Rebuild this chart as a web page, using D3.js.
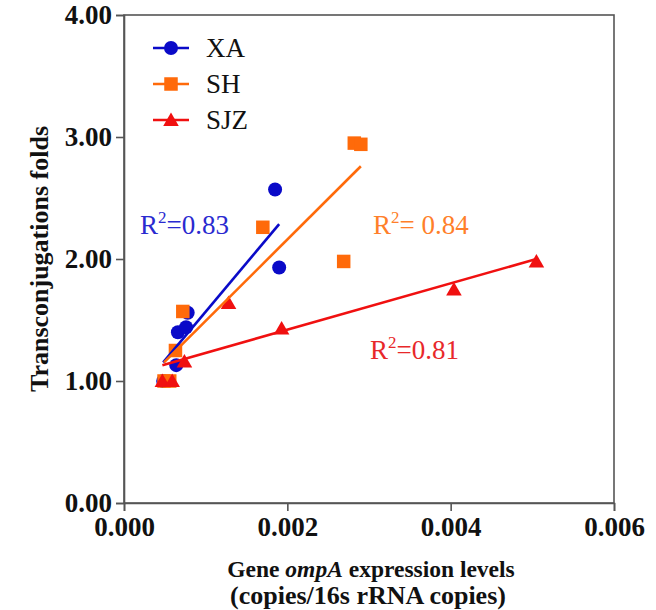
<!DOCTYPE html>
<html>
<head>
<meta charset="utf-8">
<script src="https://cdn.jsdelivr.net/npm/d3@7"></script>
<style>
  html, body { margin: 0; padding: 0; background: #fff; }
  svg { display: block; }
  text, tspan { font-family: "Liberation Serif", "Times New Roman", serif; }
</style>
</head>
<body>
<svg id="chart" width="656" height="610"></svg>
<script>
// Expression level (copies/16s rRNA copies) vs. transconjugation folds, per strain
const xaX  = [0.00048, 0.00064, 0.00066, 0.00076, 0.00078, 0.00185, 0.00190];
const xaY  = [1.00, 1.13, 1.40, 1.44, 1.56, 2.57, 1.93];
const shX  = [0.00049, 0.00056, 0.00063, 0.00072, 0.00170, 0.00269, 0.00282, 0.00290];
const shY  = [1.00, 1.00, 1.25, 1.57, 2.26, 1.98, 2.95, 2.94];
const sjzX = [0.00047, 0.00059, 0.00074, 0.00128, 0.00193, 0.00404, 0.00505];
const sjzY = [1.00, 1.00, 1.16, 1.64, 1.43, 1.75, 1.98];

const seriesNames = ["XA", "SH", "SJZ"];
const seriesColors = ["#0a0ac8", "#ff6a0a", "#f01010"];
const labelColors = ["#2a2ad0", "#ff7f2a", "#e8282a"];
const r2Labels = ["0.83", "0.84", "0.81"];
const r2Sep = ["=", "= ", "="];

const xTicks = [0, 0.002, 0.004, 0.006];
const yTicks = [0, 1, 2, 3, 4];

const series = [
  { name: seriesNames[0], xs: xaX, ys: xaY, shape: "circle" },
  { name: seriesNames[1], xs: shX, ys: shY, shape: "square" },
  { name: seriesNames[2], xs: sjzX, ys: sjzY, shape: "triangle" }
];

const svg = d3.select("#chart");
const margin = { left: 124, top: 15, right: 42, bottom: 107 };
const W = 656, H = 610;
const x = d3.scaleLinear().domain([0, 0.006]).range([margin.left, W - margin.right]);
const y = d3.scaleLinear().domain([0, 4]).range([H - margin.bottom, margin.top]);

const axisColor = "#555";
const serif = '"Liberation Serif", "Times New Roman", serif';

// frame
svg.append("rect")
  .attr("x", x(0)).attr("y", y(4))
  .attr("width", x(0.006) - x(0)).attr("height", y(0) - y(4))
  .attr("fill", "none").attr("stroke", axisColor).attr("stroke-width", 1.6);

// axes
const yAxis = svg.append("g")
  .attr("transform", `translate(${x(0)},0)`)
  .call(d3.axisLeft(y).tickValues(yTicks).tickFormat(d3.format(".2f")).tickSize(8).tickPadding(4));
const xAxis = svg.append("g")
  .attr("transform", `translate(0,${y(0)})`)
  .call(d3.axisBottom(x).tickValues(xTicks).tickFormat(d3.format(".3f")).tickSize(8).tickPadding(6));

[yAxis, xAxis].forEach(g => {
  g.attr("font-family", serif);
  g.select(".domain").attr("stroke", axisColor).attr("stroke-width", 1.6);
  g.selectAll(".tick line").attr("stroke", axisColor).attr("stroke-width", 1.6);
  g.selectAll(".tick text")
    .attr("fill", "#111")
    .style("font-family", serif)
    .style("font-weight", "bold")
    .style("font-size", "27px");
});

// axis titles
svg.append("text")
  .attr("transform", `translate(48,${(y(0) + y(4)) / 2}) rotate(-90)`)
  .attr("text-anchor", "middle")
  .style("font-family", serif)
  .style("font-weight", "bold").style("font-size", "26px").attr("fill", "#111")
  .text("Transconjugations folds");

const xt = svg.append("text")
  .attr("x", 371).attr("y", 577)
  .attr("text-anchor", "middle")
  .style("font-family", serif)
  .style("font-weight", "bold").style("font-size", "23.5px").attr("fill", "#111");
xt.append("tspan").text("Gene ");
xt.append("tspan").style("font-style", "italic").text("ompA");
xt.append("tspan").text(" expression levels");

svg.append("text")
  .attr("x", 368).attr("y", 604)
  .attr("text-anchor", "middle")
  .style("font-family", serif)
  .style("font-weight", "bold").style("font-size", "26px").attr("fill", "#111")
  .text("(copies/16s rRNA copies)");

// least-squares fit over each series' x range
function fit(xs, ys) {
  const mx = d3.mean(xs), my = d3.mean(ys);
  let sxy = 0, sxx = 0;
  xs.forEach((v, i) => { sxy += (v - mx) * (ys[i] - my); sxx += (v - mx) ** 2; });
  const b = sxy / sxx, a = my - b * mx;
  const [x0, x1] = d3.extent(xs);
  return [[x0, a + b * x0], [x1, a + b * x1]];
}

const line = d3.line().x(d => x(d[0])).y(d => y(d[1]));

function drawMarker(g, shape, cx, cy, color) {
  if (shape === "circle") {
    g.append("circle").attr("cx", cx).attr("cy", cy).attr("r", 7).attr("fill", color);
  } else if (shape === "square") {
    const s = 13.5;
    g.append("rect").attr("x", cx - s / 2).attr("y", cy - s / 2).attr("width", s).attr("height", s).attr("fill", color);
  } else {
    const sym = d3.symbol().type(d3.symbolTriangle).size(105);
    g.append("path").attr("d", sym()).attr("transform", `translate(${cx},${cy + 1.5})`).attr("fill", color);
  }
}

const plot = svg.append("g");
series.forEach((s, i) => {
  const g = plot.append("g");
  s.xs.forEach((v, j) => drawMarker(g, s.shape, x(v), y(s.ys[j]), seriesColors[i]));
});
series.forEach((s, i) => {
  plot.append("path")
    .attr("d", line(fit(s.xs, s.ys)))
    .attr("fill", "none").attr("stroke", seriesColors[i]).attr("stroke-width", 2.6);
});

// R² labels
const r2Pos = [[140, 234], [373, 234], [370, 359]];
r2Labels.forEach((v, i) => {
  const t = svg.append("text")
    .attr("x", r2Pos[i][0]).attr("y", r2Pos[i][1])
    .style("font-family", serif)
    .attr("fill", labelColors[i]).style("font-size", "27px");
  t.append("tspan").text("R");
  t.append("tspan").attr("dy", -11).style("font-size", "17px").text("2");
  t.append("tspan").attr("dy", 11).text(r2Sep[i] + v);
});

// legend
const legend = svg.append("g");
seriesNames.forEach((n, i) => {
  const ly = 48 + i * 36;
  legend.append("line").attr("x1", 153).attr("x2", 189).attr("y1", ly).attr("y2", ly)
    .attr("stroke", seriesColors[i]).attr("stroke-width", 2.6);
  drawMarker(legend, series[i].shape, 171, ly, seriesColors[i]);
  legend.append("text").attr("x", 206).attr("y", ly + 9)
    .style("font-family", serif)
    .attr("fill", "#111").style("font-size", "27px").text(n);
});
</script>
</body>
</html>
